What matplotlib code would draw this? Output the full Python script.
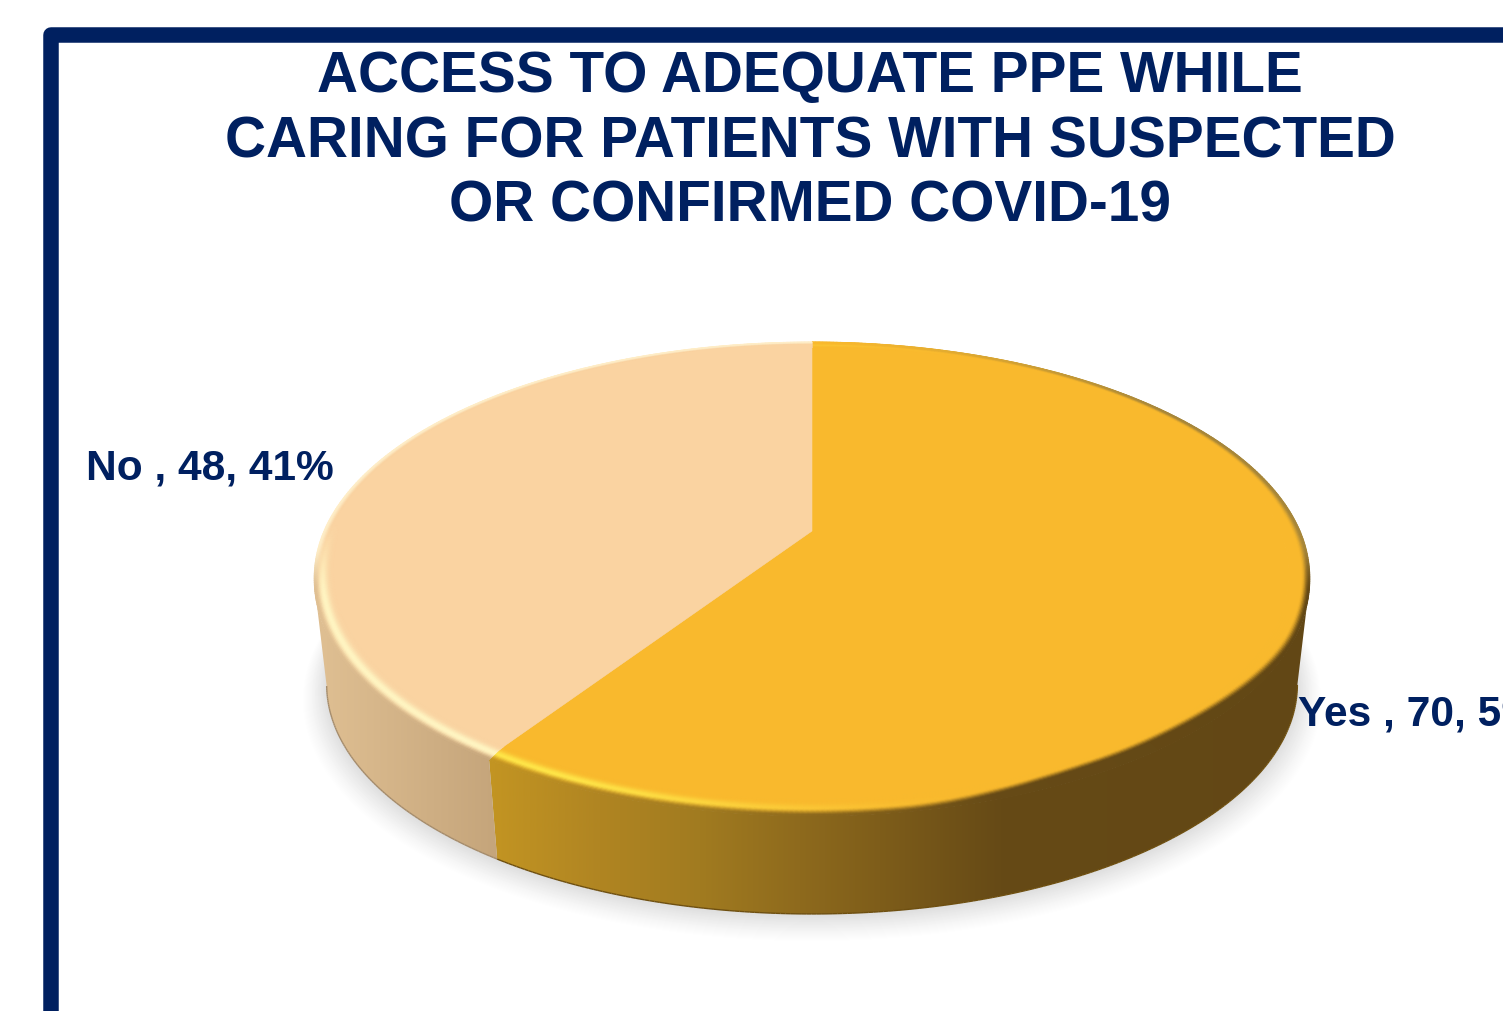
import numpy as np
import matplotlib
matplotlib.use("Agg")
import matplotlib.pyplot as plt
from matplotlib.collections import LineCollection
from matplotlib.colors import to_rgb
from matplotlib.lines import Line2D
from matplotlib.patches import Polygon

# Chart content
title_lines = [
    "ACCESS TO ADEQUATE PPE WHILE",
    "CARING FOR PATIENTS WITH SUSPECTED",
    "OR CONFIRMED COVID-19",
]
categories = ["Yes", "No"]
counts = [70, 48]
face_colors = ["#F9B92D", "#FAD3A1"]
highlight_colors = ["#FFE548", "#FFF5C2"]
NAVY = "#002060"

# Pie disc geometry, in pixels of the canvas
CX, CY = 812.0, 531.0
A, B, K = 488.0, 226.3, 0.1975
WALL_DROP, WALL_SCALE = 108.0, 0.975
BEVEL_R = 0.96

fig = plt.figure(figsize=(15.03, 10.11), dpi=100, facecolor="white")
ax = fig.add_axes([0, 0, 1, 1])
ax.axis("off")


def rgb(c):
    return np.array(to_rgb(c))


def mix(c0, c1, w):
    w = np.asarray(w)[..., None]
    return c0 * (1 - w) + c1 * w


def smooth(x, lo, hi):
    s = np.clip((np.asarray(x) - lo) / (hi - lo), 0, 1)
    return s * s * (3 - 2 * s)


def project(theta, r=1.0, scale=1.0, drop=0.0):
    """Perspective view of a point on the disc; theta runs clockwise from 12 o'clock."""
    u = r * np.sin(theta)
    v = -r * np.cos(theta)
    d = 1 - K * v
    return CX + scale * A * u / d, CY + drop + scale * B * v / d


def ramp(x, stops):
    xs = [s[0] for s in stops]
    cols = np.array([to_rgb(s[1]) for s in stops])
    return np.stack([np.interp(x, xs, cols[:, i]) for i in range(3)], axis=-1)


def wall_color(i, x):
    if i == 0:
        return ramp(x, [(495, "#C29422"), (600, "#B08522"), (700, "#A17B20"),
                        (800, "#8E6A1D"), (880, "#7E5D1A"), (1000, "#664A16"),
                        (1320, "#624715")])
    return ramp(x, [(320, "#DFBF92"), (495, "#C5A57B")])


# Cumulative angles of the slices, starting at 12 o'clock
fractions = np.array(counts) / sum(counts)
edges = np.concatenate([[0.0], np.cumsum(fractions)]) * 2 * np.pi

# Soft drop shadow under the disc
full = np.linspace(0, 2 * np.pi, 361)
for grow in np.linspace(1, 0, 26):
    sc = WALL_SCALE * (1.0 + 0.05 * grow)
    x, y = project(full, scale=sc, drop=WALL_DROP + 2 + 12 * grow)
    shade = 1 - 0.125 * (1 - grow) ** 1.2
    ax.fill(x, y, color=(shade, shade, shade), lw=0, zorder=1)

# Slices: outer wall, bevel and flat face
for i in range(len(counts)):
    face = rgb(face_colors[i])
    hi = rgb(highlight_colors[i])
    n = max(int((edges[i + 1] - edges[i]) * 180 / np.pi * 2), 2)
    th = np.linspace(edges[i], edges[i + 1], n + 1)
    v_dir = -np.cos(th)

    # Wall: a horizontal colour gradient clipped to the part facing the viewer
    xt, yt = project(th, drop=3)
    xb, yb = project(th, scale=WALL_SCALE, drop=WALL_DROP)
    vis = v_dir >= K
    outline = np.r_[np.c_[xt[vis], yt[vis]], np.c_[xb[vis], yb[vis]][::-1]]
    gx = np.linspace(outline[:, 0].min() - 2, outline[:, 0].max() + 2, 900)
    wall = ax.imshow(wall_color(i, gx)[None, :, :], aspect="auto", interpolation="bilinear",
                     extent=[gx[0], gx[-1], 1011, 0], zorder=2)
    wall.set_clip_path(Polygon(outline, closed=True, transform=ax.transData))

    # Thin darker line along the lower rim
    segs = [[(xb[j], yb[j]), (xb[j + 1], yb[j + 1])] for j in range(n)
            if vis[j] and vis[j + 1]]
    rim = "#6E4F10" if i == 0 else "#A58C6C"
    ax.add_collection(LineCollection(segs, colors=rim, linewidths=1.0, zorder=3))

    # Bevel: concentric bands running from face colour through highlight into the wall
    ts = np.linspace(0, 1, 17)[:, None]
    xm, _ = project(th)
    um = np.sin(th)
    front = smooth(v_dir, K - 0.14, K + 0.06)
    if i == 0:
        strength = 1 - smooth(xm, 540, 990) ** 0.8
        back_end = mix(face, rgb("#A6863A"), np.clip(um * 1.25, 0, 1) ** 1.5)
    else:
        strength = smooth(v_dir, -0.05, 0.3)
        back_end = np.tile(rgb("#FFEFC9"), (len(xm), 1))
    end = mix(back_end, wall_color(i, xm), front)
    lift = smooth(v_dir, 0.0, 0.5)
    shift = 0.45 * smooth(v_dir, 0.4, 0.8) * smooth(xm, 900, 1100)
    grid_r = BEVEL_R + (1 - BEVEL_R) * ts
    X, Y = project(th[None, :], r=grid_r, drop=3 * ts ** 2 * lift[None, :])
    glow = strength[None, :] * np.exp(-((ts - 0.6) / 0.24) ** 2)
    base = mix(face[None, None, :], hi[None, None, :], glow)
    fade = smooth(ts, 0.7, 1.0)
    if i == 0:
        fade = np.clip((ts - (0.62 - shift[None, :])) / 0.36, 0, 1)
        fade = fade * fade * (3 - 2 * fade)
    C = mix(base, end[None, :, :], fade)
    ax.pcolormesh(X, Y, np.clip(C, 0, 1), shading="gouraud", zorder=4)

    # Flat top face
    x, y = project(th, r=BEVEL_R)
    ax.fill(np.r_[CX, x], np.r_[CY, y], color=face, lw=0.4, zorder=5)

# Title
title_y = [92, 157, 222]
for line, y in zip(title_lines, title_y):
    ax.text(810, y, line, ha="center", va="baseline", color=NAVY,
            family="Liberation Sans", weight="bold", fontsize=40.85, zorder=8)

# Data labels: name, count and share
label_pos = [(1298, 725), (86, 479)]
for cat, cnt, frac, (lx, ly) in zip(categories, counts, fractions, label_pos):
    ax.text(lx, ly, f"{cat} , {cnt}, {round(frac * 100)}%", ha="left", va="baseline",
            color=NAVY, family="Liberation Sans", weight="bold", fontsize=30.6, zorder=8)

# Slide frame; it runs past the right and lower edges of the canvas
ax.add_line(Line2D([51, 51, 2000], [2000, 34.5, 34.5], color=NAVY,
                   linewidth=15.5 * 72 / 100, solid_joinstyle="round", zorder=7))

ax.set_xlim(0, 1503)
ax.set_ylim(1011, 0)
fig.savefig("out.png", dpi=100, facecolor="white")
